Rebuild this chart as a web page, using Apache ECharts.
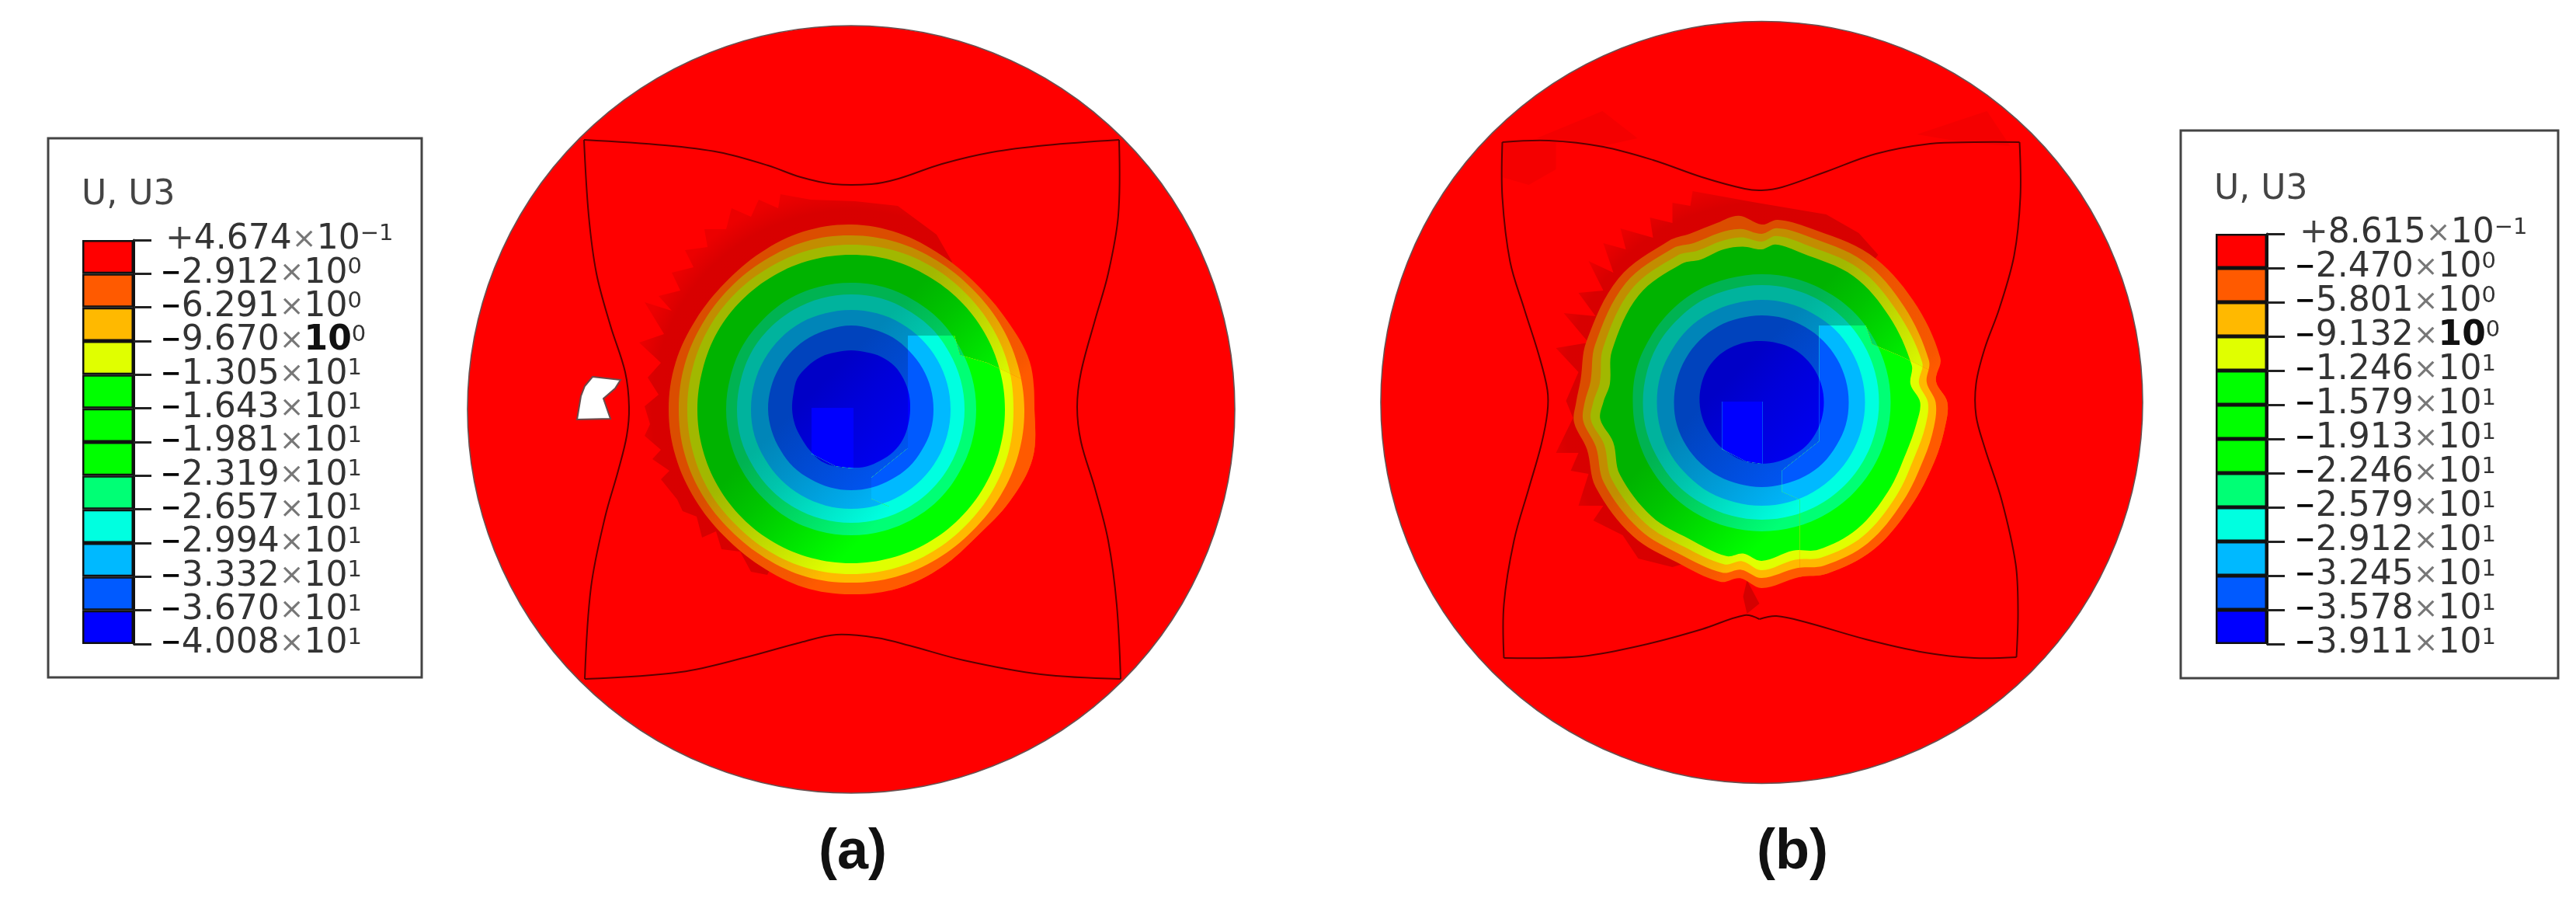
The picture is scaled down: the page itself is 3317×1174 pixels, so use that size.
<!DOCTYPE html>
<html><head><meta charset="utf-8">
<style>html,body{margin:0;padding:0;background:#fff}#c{width:3317px;height:1174px}</style>
<script src="https://cdn.jsdelivr.net/npm/echarts@6/dist/echarts.min.js"></script>
</head><body><div id="c"></div>
<script>
// ---------- legend values ----------
const bandColors = ['#ff0000','#ff5a00','#ffb900','#e0ff00','#00ff00','#00ff00','#00ff00','#00ff75','#00ffe0','#00b9ff','#005aff','#0000ff'];
const mantissaA = ['+4.674','-2.912','-6.291','-9.670','-1.305','-1.643','-1.981','-2.319','-2.657','-2.994','-3.332','-3.670','-4.008'];
const mantissaB = ['+8.615','-2.470','-5.801','-9.132','-1.246','-1.579','-1.913','-2.246','-2.579','-2.912','-3.245','-3.578','-3.911'];
const exponents = ['-1','0','0','0','1','1','1','1','1','1','1','1','1'];
// ---------- contour colours, outermost first ----------
const contourColors = ['#ff5a00','#ffb900','#e0ff00','#00ff00','#00ff75','#00ffe0','#00b9ff','#005aff','#0000ff'];
const contourDark = [.86,.76,.72,.70,.70,.70,.72,.74,.78];
// ---------- panel (a): contour radius per angle, 15 degree step ----------
const anglesA = [0,15,30,45,60,75,90,105,120,135,150,165,180,195,210,225,240,255,270,285,300,315,330,345];
const contoursA = [
 [236,238,231,228,230,235,238,237,233,230,231,234,235,234,232,231,233,237,238,238,234,230,236,242],
 [223,222,221,220,221,223,224,224,222,221,221,222,222,222,221,220,221,223,223,223,222,221,222,223],
 [209,210,210,210,211,212,212,212,211,211,211,211,211,211,211,210,211,212,212,212,211,210,210,210],
 [198,198,198,198,198,199,199,199,199,199,199,198,198,198,198,198,198,198,198,198,198,198,198,198],
 [161,161,161,162,162,163,163,163,163,162,162,161,161,161,161,161,162,162,162,162,162,162,161,161],
 [146,146,146,147,147,148,148,148,148,148,148,147,147,147,146,146,146,146,146,146,146,146,146,146],
 [128,128,128,128,128,128,128,128,129,129,129,129,129,129,128,128,128,128,128,128,128,128,128,128],
 [106,106,106,106,107,107,108,107,107,107,107,107,107,106,105,105,104,104,104,104,104,105,105,106],
 [76,77,78,79,78,76,76,76,78,79,80,77,76,75,74,75,77,76,75,76,76,77,77,76]
];
// ---------- panel (b): outer contours have their own irregular angle list ----------
const anglesBOuter = [0,7,14,34,54,75,85,90,97,104,113,120,139,161,173,180,186,195,207,226,242,257,263,270,282,291,307,325,341,352];
const contoursBOuter = [
 [239,226,237,235,236,233,236,229,242,238,236,240,244,239,235,239,243,233,240,239,233,237,228,239,230,236,238,234,235,238],
 [224,214,222,221,224,222,225,217,225,225,223,229,233,227,222,228,231,221,228,227,222,225,217,226,218,225,227,222,221,224],
 [214,204,213,210,213,211,215,207,214,214,212,218,222,216,210,217,221,210,217,216,211,214,206,216,207,214,216,211,209,213],
 [204,193,199,198,201,199,204,197,202,203,200,206,210,204,197,204,209,198,205,204,199,203,196,204,195,203,204,199,197,201]
];
const contoursBInner = [
 [166,166,166,166,165,165,165,165,166,166,166,167,166,166,166,166,166,166,166,166,166,166,166,166],
 [151,151,151,151,151,151,151,151,152,152,153,153,153,153,152,152,151,151,151,151,151,151,151,151],
 [133,133,133,133,132,132,132,132,133,134,134,135,135,135,135,134,134,133,133,133,133,133,133,133],
 [112,112,112,112,112,112,112,112,113,113,113,113,113,113,112,111,110,109,109,109,110,111,111,112],
 [80,80,80,80,80,79,79,80,81,82,82,81,80,79,78,78,78,79,79,79,79,80,80,80]
];
// ---------- dark red shading tips, x / y from disk centre ----------
const shadeA = [[130,190],[110,225],[60,262],[5,268],[-52,270],[-91,277],[-94,259],[-119,270],[-129,248],[-154,259],[-161,232],[-189,232],[-185,209],[-214,205],[-203,183],[-231,176],[-220,153],[-248,146],[-231,127],[-266,138],[-241,97],[-273,86],[-245,60],[-262,41],[-248,19],[-266,4],[-259,-19],[-266,-34],[-245,-52],[-256,-64],[-234,-79],[-245,-90],[-224,-116],[-217,-131],[-199,-138],[-192,-165],[-174,-157],[-167,-180],[-143,-183],[-129,-209],[-108,-213],[0,0]];
const shadeB = [[150,190],[125,218],[83,242],[-6,257],[-89,272],[-92,253],[-115,257],[-115,231],[-144,238],[-140,212],[-182,224],[-175,197],[-204,205],[-191,167],[-223,182],[-204,144],[-236,141],[-214,111],[-255,115],[-223,77],[-265,70],[-236,39],[-252,2],[-243,-20],[-265,-65],[-236,-65],[-246,-88],[-223,-92],[-236,-133],[-204,-133],[-217,-152],[-179,-171],[-159,-201],[-115,-212],[-77,-201],[0,0]];
const notchShadeB = [[-19,-229],[-3,-259],[-19,-272],[-24,-250]];
// ---------- model outlines, x / y from disk centre ----------
const outlineA = [
 [[-344,347],[-240,340],[-170,331],[-107,314],[-65,299],[-23,290],[26,290],[61,297],[117,316],[181,331],[251,340],[345,347]],
 [[345,347],[344,250],[331,175],[314,115],[296,48],[291,3],[296,-42],[314,-102],[331,-169],[342,-252],[347,-347]],
 [[347,-347],[244,-341],[145,-323],[75,-304],[33,-294],[-19,-290],[-65,-300],[-135,-319],[-219,-338],[-343,-347]],
 [[-343,-347],[-335,-229],[-317,-139],[-300,-79],[-289,-34],[-286,3],[-291,48],[-310,108],[-328,175],[-338,250],[-344,347]]
];
const outlineB = [
 [[-334,335],[-274,337],[-204,329],[-140,312],[-77,290],[-22,275],[0,273],[26,277],[83,297],[147,320],[217,333],[274,335],[332,335]],
 [[332,335],[333,264],[325,189],[306,121],[287,69],[276,24],[276,-17],[287,-58],[309,-126],[327,-208],[330,-268],[328,-328]],
 [[328,-328],[274,-329],[210,-322],[134,-305],[57,-283],[19,-275],[-3,-279]],
 [[-3,-279],[-22,-274],[-77,-292],[-147,-311],[-223,-326],[-274,-329],[-332,-329]],
 [[-332,-329],[-332,-260],[-319,-178],[-300,-111],[-284,-55],[-276,-13],[-276,16],[-287,61],[-306,121],[-324,181],[-334,264],[-334,335]]
];
const holeA = [[-333,42],[-297,38],[-304,27],[-319,14],[-310,-12],[-353,-13],[-348,17],[-343,30]];
// ---------- facets lit at full brightness ----------
const litA = [[[73,95],[133,95],[140,70],[175,60],[260,20],[260,-260],[49,-260],[49,-125],[26,-115],[26,-88],[73,-50]],[[-51,2],[3,2],[3,-76],[-20,-73],[-51,-57]]];
const litB = [[[74,99],[134,99],[142,75],[178,60],[260,20],[260,-260],[49,-260],[49,-125],[26,-115],[26,-88],[74,-50]],[[-51,1],[1,1],[1,-79],[-20,-76],[-51,-60]]];
// ---------- faint tile patches on the disks ----------
const patchesB = [[[-290,340],[-205,375],[-160,340],[-205,330]],[[-335,335],[-265,335],[-265,300],[-300,280],[-335,290]],[[200,345],[290,375],[320,330],[260,335]]];

const shade = (hex, f) => {
  const n = parseInt(hex.slice(1), 16);
  return 'rgb(' + [(n>>16)&255, (n>>8)&255, n&255].map(v => Math.round(v*f)).join(',') + ')';
};
const toXY = (angles, radii) => radii.map((r,i) => {
  const a = angles[i]*Math.PI/180; return [r*Math.cos(a), r*Math.sin(a)];
});

function panelRenderer(cfg){
  return function(params, api){
    const P = p => api.coord(p);
    const pts = list => list.map(P);
    const c0 = P([0,0]);
    const R = api.size([cfg.radius,cfg.radius])[0];
    const kids = [];
    kids.push({type:'circle',shape:{cx:c0[0],cy:c0[1],r:R},style:{fill:'#ff0000',stroke:'#6a5050',lineWidth:1.6}});
    (cfg.patches||[]).forEach(p=>kids.push({type:'polygon',shape:{points:pts(p)},style:{fill:'#f40000'}}));
    const fade = new echarts.graphic.RadialGradient(c0[0],c0[1],285,[
      {offset:0,color:'#d60000'},{offset:.9,color:'#d80000'},{offset:1,color:'#ec0000'}],true);
    kids.push({type:'polygon',shape:{points:pts(cfg.shadeTips)},style:{fill:fade}});
    (cfg.notch?[cfg.notch]:[]).forEach(p=>kids.push({type:'polygon',shape:{points:pts(p)},style:{fill:'#d40000'}}));
    const s = P([-105,105]), e = P([105,-105]);
    const grad = (hex,d) => new echarts.graphic.LinearGradient(s[0],s[1],e[0],e[1],[
      {offset:0,color:shade(hex,d)},{offset:.33,color:shade(hex,d)},{offset:.5,color:shade(hex,d+.07)},
      {offset:.87,color:shade(hex,.97)},{offset:.93,color:hex},{offset:1,color:hex}],true);
    const ringShape = r => ({points:pts(r),smooth:.35});
    cfg.rings.forEach((r,i)=>kids.push({type:'polygon',shape:ringShape(r),style:{fill:grad(contourColors[i],contourDark[i])}}));
    cfg.lit.forEach(poly=>{
      kids.push({type:'group',clipPath:{type:'polygon',shape:{points:pts(poly)}},
        children:cfg.rings.map((r,i)=>({type:'polygon',shape:ringShape(r),style:{fill:contourColors[i]}}))});
    });
    if(cfg.hole) kids.push({type:'polygon',shape:{points:pts(cfg.hole)},style:{fill:'#fff',stroke:'#6a4a4a',lineWidth:2}});
    cfg.outline.forEach(o=>kids.push({type:'polyline',shape:{points:pts(o),smooth:.35},style:{fill:'none',stroke:'#5a0000',lineWidth:2}}));
    return {type:'group',children:kids};
  };
}
const ringsA = contoursA.map(r=>toXY(anglesA,r));
const ringsB = contoursBOuter.map(r=>toXY(anglesBOuter,r)).concat(contoursBInner.map(r=>toXY(anglesA,r)));

function tickLabel(mant, exp, idx){
  const neg = mant[0]==='-';
  const head = neg ? '{m|\u2212}' : '{p|+}';
  const tens = idx===3 ? '{b|10}' : '{n|10}';
  const sup = exp.replace('-','\u2212');
  return head+'{n|'+mant.slice(1)+'}{x|\u00d7}'+tens+'{s|'+sup+'}';
}
const richStyle = {
  m:{fontFamily:'DejaVu Sans',fontSize:32,fontWeight:'bold',color:'#000',lineHeight:44},
  p:{fontFamily:'DejaVu Sans',fontSize:44,color:'#444',lineHeight:44,padding:[0,0,0,6]},
  n:{fontFamily:'DejaVu Sans',fontSize:44,color:'#333',lineHeight:44},
  b:{fontFamily:'DejaVu Sans',fontSize:44,fontWeight:'bold',color:'#111',lineHeight:44},
  x:{fontFamily:'DejaVu Sans',fontSize:38,color:'#777',lineHeight:44},
  s:{fontFamily:'DejaVu Sans',fontSize:29,color:'#333',lineHeight:29,verticalAlign:'top'}
};
const barSeries = (gridIdx,yIdx) => bandColors.map(col=>({
  type:'bar',xAxisIndex:gridIdx,yAxisIndex:yIdx,stack:'g'+gridIdx,barWidth:'100%',silent:true,
  data:[1],itemStyle:{color:col,borderColor:'#111',borderWidth:2.5}
}));
const bandAxis = (gridIdx)=>({gridIndex:gridIdx,type:'value',min:0,max:12,inverse:true,show:false,splitLine:{show:false}});
const tickAxis = (gridIdx,mant,margin)=>({
  gridIndex:gridIdx,type:'category',boundaryGap:false,inverse:true,position:'right',
  data:mant.map((m,i)=>tickLabel(m,exponents[i],i)),
  splitLine:{show:false},
  axisLine:{show:true,lineStyle:{color:'#111',width:3}},
  axisTick:{show:true,length:23,interval:0,lineStyle:{color:'#222',width:3}},
  axisLabel:{show:true,interval:0,align:'left',margin:margin,hideOverlap:false,rich:richStyle}
});
const diskX = (g,r)=>({gridIndex:g,type:'value',min:-r,max:r,show:false});
const chart = echarts.init(document.getElementById('c'));
chart.setOption({
  animation:false,backgroundColor:'#fff',
  title:[
    {text:'U, U3',left:105,top:230,textStyle:{fontFamily:'DejaVu Sans',fontSize:44,fontWeight:'normal',color:'#444'},padding:0},
    {text:'U, U3',left:2851,top:223,textStyle:{fontFamily:'DejaVu Sans',fontSize:44,fontWeight:'normal',color:'#444'},padding:0},
    {text:'(a)',left:1054,top:1062,textStyle:{fontFamily:'Liberation Sans',fontSize:72,fontWeight:'bold',color:'#111'},padding:0},
    {text:'(b)',left:2262,top:1062,textStyle:{fontFamily:'Liberation Sans',fontSize:72,fontWeight:'bold',color:'#111'},padding:0}
  ],
  graphic:[
    {type:'rect',shape:{x:62,y:178,width:481,height:694},style:{fill:'#fff',stroke:'#444',lineWidth:3},z:-1},
    {type:'rect',shape:{x:2808,y:168,width:486,height:705},style:{fill:'#fff',stroke:'#444',lineWidth:3},z:-1}
  ],
  grid:[
    {left:602,top:31,width:988,height:992},
    {left:1778,top:27,width:981,height:982},
    {left:106,top:309,width:66,height:520},
    {left:2853,top:301,width:66,height:528}
  ],
  xAxis:[diskX(0,494),diskX(1,490.5),
    {gridIndex:2,type:'category',data:['U3'],show:false},
    {gridIndex:3,type:'category',data:['U3'],show:false}],
  yAxis:[{gridIndex:0,type:'value',min:-496,max:496,show:false},{gridIndex:1,type:'value',min:-491,max:491,show:false},
    bandAxis(2),bandAxis(3),tickAxis(2,mantissaA,35),tickAxis(3,mantissaB,36)],
  series:[
    {type:'custom',xAxisIndex:0,yAxisIndex:0,silent:true,clip:false,data:[[0,0]],
     renderItem:panelRenderer({radius:494,rings:ringsA,shadeTips:shadeA,lit:litA,hole:holeA,outline:outlineA})},
    {type:'custom',xAxisIndex:1,yAxisIndex:1,silent:true,clip:false,data:[[0,0]],
     renderItem:panelRenderer({radius:490.5,rings:ringsB,shadeTips:shadeB,notch:notchShadeB,patches:patchesB,lit:litB,outline:outlineB})},
    ...barSeries(2,2),...barSeries(3,3)
  ]
});
</script></body></html>
